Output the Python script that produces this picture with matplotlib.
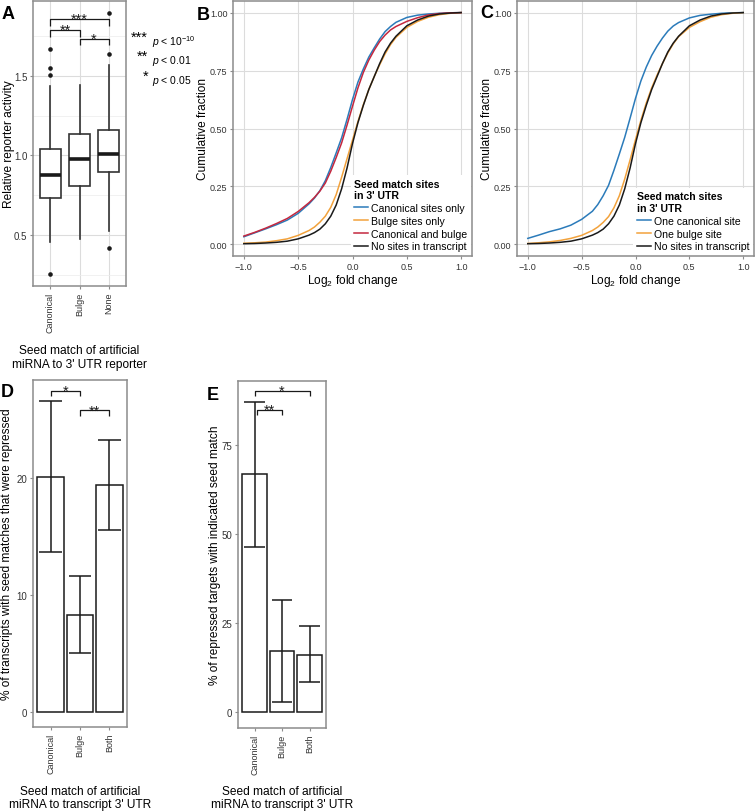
import matplotlib
matplotlib.use('Agg')
import matplotlib.pyplot as plt
from matplotlib.lines import Line2D

plt.rcParams['font.family'] = ['Liberation Sans', 'DejaVu Sans']
plt.rcParams['mathtext.fontset'] = 'custom'
plt.rcParams['mathtext.rm'] = 'Liberation Sans'
plt.rcParams['mathtext.it'] = 'Liberation Sans:italic'
plt.rcParams['mathtext.bf'] = 'Liberation Sans:bold'

# ---- data ----
# A: relative reporter activity (box plot stats)
a_groups = ['Canonical', 'Bulge', 'None']
a_q1 = [0.735, 0.805, 0.893]
a_med = [0.877, 0.975, 1.012]
a_q3 = [1.043, 1.133, 1.162]
a_lo = [0.456, 0.474, 0.524]
a_hi = [1.438, 1.442, 1.566]
a_fliers = [[1.666, 1.552, 1.506, 0.254], [], [1.640, 1.897, 0.418]]

# B / C: cumulative fraction vs log2 fold change
lfc = [-1.0, -0.9, -0.8, -0.7, -0.6, -0.5, -0.4, -0.35, -0.3, -0.25, -0.2, -0.15,
       -0.1, -0.05, 0.0, 0.05, 0.1, 0.15, 0.2, 0.25, 0.3, 0.35, 0.4, 0.5, 0.6,
       0.7, 0.8, 0.9, 1.0]
b_canon = [.033, .050, .067, .085, .105, .134, .175, .200, .232, .275, .332, .395,
           .460, .540, .625, .700, .757, .808, .848, .886, .918, .940, .958, .979,
           .989, .994, .997, .999, 1.0]
b_bulge = [.005, .007, .010, .016, .024, .039, .060, .075, .096, .122, .160, .215,
           .290, .370, .450, .530, .603, .668, .724, .775, .822, .862, .893, .936,
           .962, .980, .991, .997, 1.0]
b_both = [.036, .052, .070, .090, .112, .142, .180, .203, .230, .265, .316, .375,
          .438, .515, .596, .675, .742, .795, .838, .875, .903, .925, .940, .962,
          .978, .990, .996, .999, 1.0]
b_none = [.003, .004, .006, .009, .014, .024, .040, .051, .066, .089, .122, .170,
          .240, .330, .435, .525, .600, .668, .724, .780, .830, .868, .898, .943,
          .968, .985, .994, .998, 1.0]
c_canon = [.026, .040, .055, .067, .083, .108, .143, .172, .210, .255, .320, .390,
           .462, .545, .630, .705, .765, .815, .855, .890, .920, .942, .957, .977,
           .988, .993, .997, .999, 1.0]
c_bulge = [.004, .007, .011, .017, .026, .039, .060, .075, .095, .120, .158, .210,
           .282, .365, .452, .535, .610, .675, .730, .780, .826, .865, .896, .936,
           .961, .980, .991, .997, 1.0]
c_none = [.003, .004, .006, .009, .014, .024, .040, .051, .066, .089, .122, .170,
          .240, .330, .435, .525, .600, .668, .724, .780, .830, .868, .898, .943,
          .968, .985, .994, .998, 1.0]
b_labels = ['Canonical sites only', 'Bulge sites only', 'Canonical and bulge',
            'No sites in transcript']
c_labels = ['One canonical site', 'One bulge site', 'No sites in transcript']

# D / E: bar charts with error bars
de_groups = ['Canonical', 'Bulge', 'Both']
d_pct = [20.1, 8.3, 19.4]
d_lo = [13.7, 5.0, 15.6]
d_hi = [26.6, 11.6, 23.3]
e_pct = [66.7, 17.1, 16.2]
e_lo = [46.3, 3.0, 8.4]
e_hi = [87.0, 31.5, 24.2]

BLUE = '#2b7bba'
ORANGE = '#f2a23c'
RED = '#c4283f'
BLACK = '#1a1a1a'
FRAME = '#8c8c8c'
GRID = '#dcdcdc'
TITLE_FS = 8.6

W, H = 755, 812
fig = plt.figure(figsize=(W / 100, H / 100), dpi=100)


def px_axes(left, top, right, bottom):
    return fig.add_axes([left / W, 1 - bottom / H, (right - left) / W, (bottom - top) / H])


def style(ax, labelsize=7):
    for s in ax.spines.values():
        s.set_color(FRAME)
        s.set_linewidth(1.1)
    ax.tick_params(color=FRAME, length=2.5, width=0.8, labelsize=labelsize,
                   labelcolor='#333333', pad=1.5)
    ax.set_axisbelow(True)


def bracket(ax, x1, x2, y, drop, label):
    ax.plot([x1, x1, x2, x2], [y - drop, y, y, y - drop], color=BLACK, lw=0.9,
            solid_capstyle='butt')
    ax.text((x1 + x2) / 2, y, label, ha='center', va='center', fontsize=10.5,
            color=BLACK)


# ---- panel A ----
axA = px_axes(33, 2, 126, 287)
style(axA)
stats = []
for i in range(3):
    stats.append(dict(med=a_med[i], q1=a_q1[i], q3=a_q3[i], whislo=a_lo[i],
                      whishi=a_hi[i], fliers=a_fliers[i], label=a_groups[i]))
axA.bxp(stats, positions=[1, 2, 3], widths=0.75, patch_artist=True, showcaps=False,
        boxprops=dict(facecolor='white', edgecolor='#333333', lw=1.2),
        medianprops=dict(color=BLACK, lw=2.6, solid_capstyle='butt'),
        whiskerprops=dict(color='#333333', lw=1.2),
        flierprops=dict(marker='o', markerfacecolor=BLACK, markeredgecolor='none',
                        markersize=3.3))
axA.set_xlim(0.4, 3.6)
axA.set_ylim(0.18, 1.97)
axA.set_yticks([0.5, 1.0, 1.5])
axA.set_yticklabels(['0.5', '1.0', '1.5'])
axA.set_yticks([0.25, 0.75, 1.25, 1.75], minor=True)
axA.tick_params(which='minor', length=0)
axA.set_xticks([1, 2, 3])
axA.set_xticklabels(a_groups, rotation=90, fontsize=6.5)
axA.grid(True, which='major', color=GRID, lw=0.8)
axA.grid(True, which='minor', axis='y', color='#ececec', lw=0.5)
bracket(axA, 1, 3, 1.86, 0.045, '***')
bracket(axA, 1, 2, 1.79, 0.045, '**')
bracket(axA, 2, 3, 1.73, 0.035, '*')
axA.set_ylabel('Relative reporter activity', fontsize=TITLE_FS)
axA.yaxis.set_label_coords(-0.19, 0.5)
axA.set_xlabel("Seed match of artificial\nmiRNA to 3' UTR reporter", fontsize=TITLE_FS,
               linespacing=1.15)
axA.xaxis.set_label_coords(0.5, -0.205)

# significance key
sig_stars = ['***', '**', '*']
sig_text = [r'$p$ < 10$^{-10}$', r'$p$ < 0.01', r'$p$ < 0.05']
sig_y = [42, 61, 81]
for st, tx, y in zip(sig_stars, sig_text, sig_y):
    fig.text(148 / W, 1 - (y - 4) / H, st, ha='right', va='center', fontsize=10.5)
    fig.text(152 / W, 1 - y / H, tx, ha='left', va='center', fontsize=7.5)


# ---- panels B and C ----
def cdf_panel(ax, series, colors, labels):
    style(ax, labelsize=6.5)
    for ys, col in zip(series, colors):
        ax.plot(lfc, ys, color=col, lw=1.1)
    ax.set_xlim(-1.1, 1.1)
    ax.set_ylim(-0.05, 1.05)
    ax.set_xticks([-1.0, -0.5, 0.0, 0.5, 1.0])
    ax.set_xticklabels(['\u22121.0', '\u22120.5', '0.0', '0.5', '1.0'])
    ax.set_yticks([0, 0.25, 0.5, 0.75, 1.0])
    ax.set_yticklabels(['0.00', '0.25', '0.50', '0.75', '1.00'])
    ax.grid(True, color=GRID, lw=0.8)
    ax.set_xlabel('Log$_2$ fold change', fontsize=TITLE_FS)
    ax.xaxis.set_label_coords(0.5, -0.063)
    ax.set_ylabel('Cumulative fraction', fontsize=TITLE_FS)
    ax.yaxis.set_label_coords(-0.1, 0.5)
    handles = [Line2D([], [], color=c, lw=1.1) for c in colors]
    leg = ax.legend(handles, labels, title="Seed match sites\nin 3' UTR", loc='lower right',
                    fontsize=7.6, title_fontproperties={'weight': 'bold', 'size': 7.6},
                    frameon=True, framealpha=1, edgecolor='none', fancybox=False,
                    borderpad=0.35, handlelength=1.3, handletextpad=0.3,
                    labelspacing=0.26, borderaxespad=0.1)
    leg._legend_box.align = 'left'


axB = px_axes(233, 2, 472, 257)
cdf_panel(axB, [b_canon, b_bulge, b_both, b_none], [BLUE, ORANGE, RED, BLACK], b_labels)
axC = px_axes(517, 2, 754, 257)
cdf_panel(axC, [c_canon, c_bulge, c_none], [BLUE, ORANGE, BLACK], c_labels)


# ---- panels D and E ----
def bar_panel(ax, vals, lo, hi):
    style(ax)
    pos = [1, 2, 3]
    ax.bar(pos, vals, width=0.9, color='white', edgecolor=BLACK, lw=1.1)
    ax.vlines(pos, lo, hi, color=BLACK, lw=1.1)
    ax.hlines(lo, [p - 0.38 for p in pos], [p + 0.38 for p in pos], color=BLACK, lw=1.1)
    ax.hlines(hi, [p - 0.38 for p in pos], [p + 0.38 for p in pos], color=BLACK, lw=1.1)
    ax.set_xlim(0.4, 3.6)
    ax.set_xticks(pos)
    ax.set_xticklabels(de_groups, rotation=90, fontsize=6.5)
    ax.set_xlabel("Seed match of artificial\nmiRNA to transcript 3' UTR", fontsize=TITLE_FS,
                  linespacing=1.15)


axD = px_axes(33, 381, 127, 728)
bar_panel(axD, d_pct, d_lo, d_hi)
axD.set_ylim(-1.3, 28.4)
axD.set_yticks([0, 10, 20])
bracket(axD, 1, 2, 27.5, 0.5, '*')
bracket(axD, 2, 3, 25.8, 0.5, '**')
axD.set_ylabel('% of transcripts with seed matches that were repressed', fontsize=TITLE_FS)
axD.yaxis.set_label_coords(-0.213, 0.5)
axD.xaxis.set_label_coords(0.5, -0.166)

axE = px_axes(238, 382, 326, 729)
bar_panel(axE, e_pct, e_lo, e_hi)
axE.set_ylim(-4.4, 92.9)
axE.set_yticks([0, 25, 50, 75])
bracket(axE, 1, 3, 90.2, 1.5, '*')
bracket(axE, 1.1, 2, 84.8, 1.5, '**')
axE.set_ylabel('% of repressed targets with indicated seed match', fontsize=TITLE_FS)
axE.yaxis.set_label_coords(-0.19, 0.5)
axE.xaxis.set_label_coords(0.5, -0.163)

# panel letters
for letter, x, y in [('A', 2, 6), ('B', 197, 7), ('C', 480, 5), ('D', 1, 384), ('E', 207, 387)]:
    fig.text(x / W, 1 - y / H, letter, ha='left', va='top', fontsize=13, fontweight='bold')

fig.savefig('out.png', dpi=100)
